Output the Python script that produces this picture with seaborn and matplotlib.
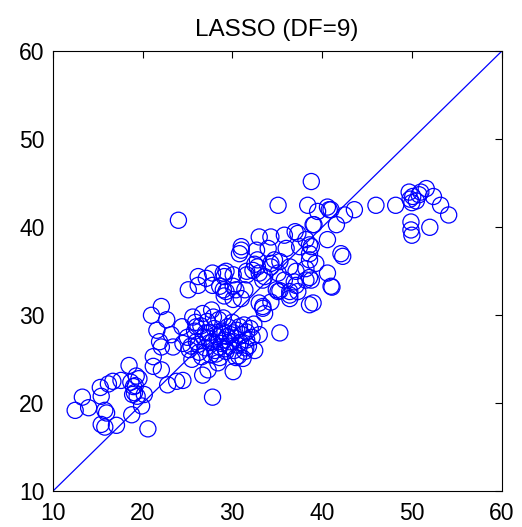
import numpy as np
import pandas as pd
import seaborn as sns
import matplotlib.pyplot as plt

obs = [
    12.5, 13.3, 14.0, 15.3, 15.4, 15.8, 16.0, 15.4, 15.8, 17.1, 16.2, 16.7, 17.6, 18.5, 18.7, 19.0, 19.1, 19.6,
    19.4, 20.2, 19.9, 18.8, 20.6, 19.3, 21.2, 22.1, 22.8, 23.8, 24.5, 21.2, 22.1, 23.4, 24.5, 25.2, 19.2, 18.9,
    21.9, 21.6, 21.0, 22.1, 22.7, 23.2, 24.4, 25.6, 26.7, 27.7, 26.0, 25.1, 26.2, 26.2, 26.7, 27.3, 27.8, 30.1, 24.0,
    25.0, 25.4, 25.8, 26.0, 26.3, 26.5, 26.8, 27.0, 27.2, 27.4, 27.6, 27.8, 28.0, 28.1, 28.3, 28.5, 28.6, 28.8,
    28.9, 29.1, 29.3, 29.5, 29.6, 29.8, 30.0, 30.2, 30.3, 30.5, 30.7, 30.9, 31.1, 31.3, 31.5, 31.6, 31.6, 31.2,
    31.4, 25.5, 26.2, 27.0, 27.5, 28.2, 28.7, 29.2, 29.7, 30.4, 30.8, 27.9, 28.4, 26.6, 29.0,
    30.1, 25.9, 27.3, 28.6, 29.4, 30.6, 31.8, 32.2, 32.0, 32.5, 33.0, 32.4,
    29.0, 29.1, 30.1, 31.6, 27.8, 29.0, 29.1, 30.4, 31.0, 30.1, 33.4, 33.6, 32.3, 33.0, 33.4, 34.3, 34.7, 32.8,
    32.5, 35.1, 31.0, 30.8, 33.0, 34.3, 34.0, 35.8, 37.0, 38.2, 38.8, 35.1, 38.4, 38.8, 39.5, 40.8, 40.6, 41.0,
    43.6, 42.5, 39.1, 41.6, 40.6, 42.1, 42.3, 38.6, 40.6, 41.0, 41.1, 38.6, 38.6, 38.8, 33.4, 35.3, 36.4, 37.3,
    37.3, 39.0, 31.0, 32.7, 36.0, 37.5, 38.6, 29.3, 31.6, 32.8, 34.3, 35.3, 36.4, 37.1, 38.2, 39.3, 35.1, 33.6,
    35.8, 36.9, 38.2, 27.1, 27.8, 30.1, 31.4, 29.3, 28.6, 34.9, 36.4, 39.0, 33.0, 34.3, 36.4, 35.3, 37.1, 38.6,
    49.7, 51.6, 53.2, 54.1, 49.9, 49.9, 50.0, 52.0, 50.8, 50.1, 49.8, 50.5, 52.4, 46.0, 48.2, 50.0, 51.0,
]
pred = [
    19.2, 20.7, 19.5, 21.8, 20.8, 19.2, 18.9, 17.6, 17.3, 17.5, 22.2, 22.5, 22.6, 24.3, 22.4, 21.9, 21.2, 22.8,
    20.8, 21.0, 19.7, 18.7, 17.1, 23.1, 24.2, 23.8, 22.1, 22.5, 22.6, 25.3, 26.4, 26.4, 26.8, 26.1, 22.0, 21.0,
    27.0, 28.3, 30.0, 31.0, 29.5, 27.8, 28.7, 29.8, 30.2, 30.6, 28.7, 32.9, 34.4, 33.4, 23.2, 23.8, 20.7, 23.6, 40.8,
    27.5, 26.5, 28.2, 27.0, 25.8, 28.8, 27.5, 26.3, 29.3, 28.0, 25.5, 27.0, 28.5, 26.0, 27.6, 29.5, 25.2, 26.8,
    28.2, 27.2, 25.9, 28.7, 26.5, 27.8, 29.2, 26.0, 27.4, 28.3, 25.4, 26.9, 27.8, 28.9, 26.3, 27.2, 28.1, 25.1,
    25.9, 25.0, 26.7, 28.0, 26.9, 25.6, 27.9, 26.2, 27.0, 25.2, 28.7, 29.8, 24.6, 25.3, 29.7,
    28.0, 29.2, 27.4, 26.4, 27.6, 26.6, 26.5, 27.5, 28.5, 26.0, 27.8, 29.0,
    34.8, 34.4, 34.6, 34.6, 33.4, 32.9, 32.2, 32.9, 31.9, 31.8, 30.8, 30.2, 35.1, 34.8, 34.0, 35.5, 36.3, 36.3,
    35.8, 32.7, 37.8, 37.0, 38.9, 38.9, 37.6, 39.1, 39.5, 38.6, 37.8, 42.5, 42.5, 45.2, 41.8, 42.0, 42.3, 42.0,
    42.0, 41.4, 40.3, 40.3, 38.6, 37.0, 36.7, 38.0, 34.8, 33.3, 33.2, 31.2, 36.3, 34.0, 31.0, 28.0, 31.9, 32.7,
    39.3, 40.3, 37.4, 37.4, 37.6, 37.8, 37.0, 35.0, 35.0, 35.5, 35.9, 36.1, 35.5, 35.0, 35.3, 35.9, 34.8, 34.4,
    34.0, 33.8, 34.0, 34.2, 34.8, 33.3, 32.9, 32.7, 33.3, 32.9, 32.7, 31.4, 31.4, 31.5, 32.3, 32.8, 33.4, 34.3,
    44.0, 44.4, 42.5, 41.4, 40.6, 39.7, 39.1, 40.0, 43.7, 43.5, 43.2, 43.0, 43.5, 42.5, 42.5, 42.8, 44.0,
]
diag = [10, 60]
ticks = [10, 20, 30, 40, 50, 60]

df = pd.DataFrame({'obs': obs, 'pred': pred})

sns.set_theme(style='white')
plt.rcParams['font.family'] = ['Liberation Sans', 'DejaVu Sans']

fig = plt.figure(figsize=(5.22, 5.27), dpi=100)
ax = fig.add_axes([0.101, 0.0677, 0.86, 0.835])

sns.lineplot(x=diag, y=diag, color='#0000ff', linewidth=0.9, ax=ax)
sns.scatterplot(data=df, x='obs', y='pred', marker='o', s=135, facecolor='none',
                edgecolor='#0000ff', linewidth=0.9, ax=ax)

ax.set_xlim(10, 60)
ax.set_ylim(10, 60)
ax.set_xticks(ticks)
ax.set_yticks(ticks)
ax.set_xlabel('')
ax.set_ylabel('')
ax.set_title('LASSO (DF=9)', fontsize=17.5, pad=11, color='black')
ax.tick_params(direction='in', length=5, width=0.8, labelsize=16.5, top=True, right=True,
               colors='black')
ax.tick_params(axis='x', pad=8)
ax.tick_params(axis='y', pad=6)
for sp in ax.spines.values():
    sp.set_color('black')
    sp.set_linewidth(0.8)

fig.savefig('out.png', dpi=100)
